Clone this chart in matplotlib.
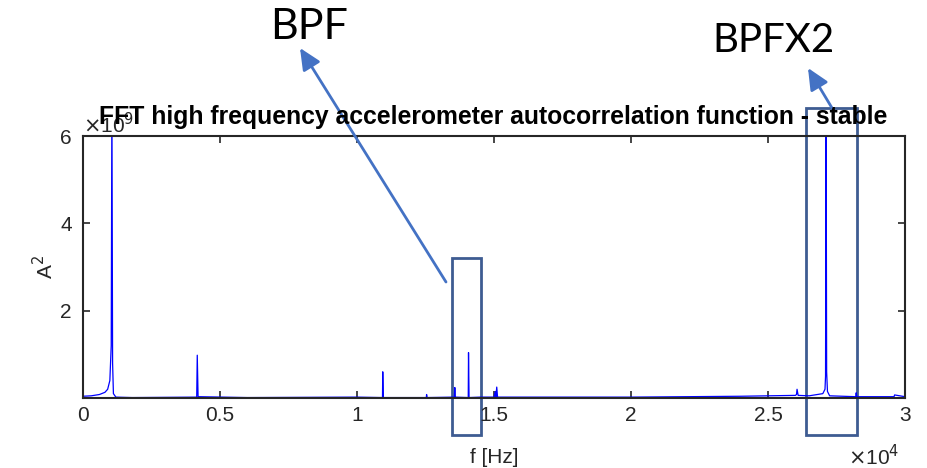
import numpy as np
import matplotlib.pyplot as plt
from matplotlib.patches import Rectangle, FancyArrowPatch

# spectrum (f in Hz, amplitude in units of 1e9 A^2)
freq = [0, 300, 600, 800, 900, 980, 1030, 1055, 1080, 1110, 1200, 1800,
        4150, 4170, 4200, 6000, 10000, 10930, 10940, 10960,
        12530, 12540, 12560, 13550, 13570, 13590, 14060, 14070, 14090,
        14500, 15000, 15050, 15070, 15100, 15130, 17000, 20000, 22000,
        24000, 25000, 26000, 26040, 26060, 26100, 26500, 27000, 27080,
        27100, 27120, 27140, 27170, 27250, 28200, 28220, 28240, 29000,
        29600, 29620, 30000]
amp = [0.04, 0.05, 0.08, 0.13, 0.2, 0.4, 1.2, 7.0, 0.8, 0.1, 0.02, 0.01,
       0.02, 0.98, 0.03, 0.01, 0.02, 0.01, 0.6, 0.01,
       0.01, 0.08, 0.01, 0.02, 0.24, 0.02, 0.01, 1.04, 0.01,
       0.02, 0.02, 0.15, 0.02, 0.25, 0.02, 0.02, 0.02, 0.03,
       0.04, 0.05, 0.06, 0.08, 0.2, 0.06, 0.05, 0.1, 0.2,
       0.5, 7.0, 0.6, 0.15, 0.05, 0.03, 0.12, 0.03, 0.03,
       0.03, 0.07, 0.03]

x_ticks = [0, 5000, 10000, 15000, 20000, 25000, 30000]
x_ticklabels = ['0', '0.5', '1', '1.5', '2', '2.5', '3']
y_ticks = [2, 4, 6]

plt.rcParams['font.family'] = ['Liberation Sans', 'DejaVu Sans']

fig = plt.figure(figsize=(9.28, 4.68), dpi=100)
ax = fig.add_axes([83/928, 1 - 398/468, 822/928, 262/468])

ax.plot(freq, amp, color='#0000ff', lw=0.9)
ax.set_xlim(0, 30000)
ax.set_ylim(0, 6)
ax.set_xticks(x_ticks)
ax.set_xticklabels(x_ticklabels)
ax.set_yticks(y_ticks)
ax.tick_params(direction='in', top=True, right=True, labelsize=15,
               colors='#262626', length=5, width=1.2)
ax.tick_params(axis='x', pad=6)
ax.tick_params(axis='y', pad=8)
for s in ax.spines.values():
    s.set_linewidth(1.5)
    s.set_color('#262626')

ax.set_xlabel('f [Hz]', fontsize=15, color='#262626', labelpad=16)
ax.set_ylabel('A$^2$', fontsize=15, color='#262626', labelpad=2)

# exponent labels like matlab
fig.text(83/928, 1 - 125/468, r'$\times$10$^9$', fontsize=15, color='#262626',
         ha='left', va='center')
fig.text(848/928, 1 - 457/468, r'$\times$10$^4$', fontsize=15, color='#262626',
         ha='left', va='center')

fig.text(493/928, 1 - 117/468,
         'FFT high frequency accelerometer autocorrelation function - stable',
         fontsize=17.8, fontweight='bold', color='black', ha='center', va='center')

# boxes around the peaks
box_col = '#3e5c92'
ax.add_patch(Rectangle((13470, -0.85), 1060, 4.05, fill=False, ec=box_col,
                       lw=2, clip_on=False))
ax.add_patch(Rectangle((26390, -0.85), 1860, 7.49, fill=False, ec=box_col,
                       lw=2, clip_on=False))

# arrows and labels (figure pixels)
arr_col = '#4472c4'
def px(x, y):
    return (x / 928, 1 - y / 468)

for tail, head in [((446, 282), (300, 48)), ((832, 108), (808, 68))]:
    fig.patches.append(FancyArrowPatch(px(*tail), px(*head),
                                       transform=fig.transFigure,
                                       arrowstyle='-|>,head_length=13,head_width=6',
                                       color=arr_col, lw=2, shrinkA=0, shrinkB=0))

fig.text(309/928, 1 - 27/468, 'BPF', fontsize=31, family='Lato',
         ha='center', va='center')
fig.text(774/928, 1 - 41/468, 'BPFX2', fontsize=29, family='Lato',
         ha='center', va='center')

fig.savefig('out.png', dpi=100)
